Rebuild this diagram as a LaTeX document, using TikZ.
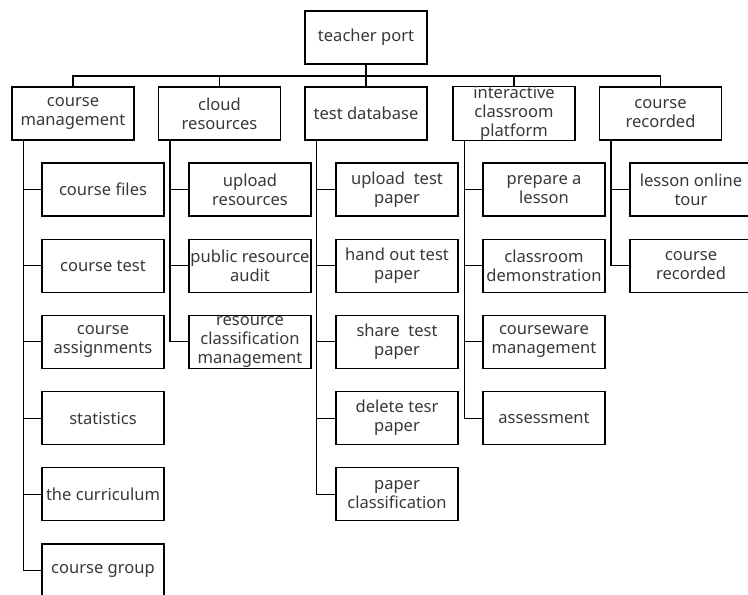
\documentclass[tikz,border=0pt]{standalone}
\usepackage{fontspec}
\setmainfont{Noto Sans}
\usetikzlibrary{positioning}

\begin{document}
\begin{tikzpicture}[x=0.75pt, y=-0.75pt]
		\tikzstyle{every node}=[font=\fontsize{12.4}{14.3}\selectfont, text=black!78]
		\tikzstyle{box}=[draw=black, line width=0.8pt, minimum width=91.5pt, minimum height=39.75pt, inner sep=0pt, align=center]
		\tikzstyle{link}=[line width=0.8pt]
		\useasboundingbox (0,0) rectangle (748,594);
		% top
		\node [box] (root) at (366,37.5) {teacher port};
		\node [box] (cm) at (73,113.5) {course\\management};
		\node [box] (cloud) at (219.5,113.5) {cloud\\resources};
		\node [box] (tdb) at (366,113.5) {test database};
		\node [box] (icp) at (514,113.5) {interactive\\classroom\\platform};
		\node [box] (rec) at (660.5,113.5) {course\\recorded};
		\coordinate (bus) at (366,76);
		\draw [link] (cm.north) |- (bus) -| (rec.north);
		\draw [link] (cloud.north) -- (cloud.north |- bus);
		\draw [link] (icp.north) -- (icp.north |- bus);
		\draw [link] (root.south) -- (tdb.north);
		% course management
		\node [box] (cm1) at (103,189.5) {course files};
		\node [box] (cm2) at (103,265.7) {course test};
		\node [box] (cm3) at (103,341.9) {course\\assignments};
		\node [box] (cm4) at (103,418.1) {statistics};
		\node [box] (cm5) at (103,494.3) {the curriculum};
		\node [box] (cm6) at (103,570.5) {course group};
		\coordinate (cmS) at ([xshift=9pt]cm.south west);
		\draw [link] (cmS) |- (cm6.west);
		\draw [link] (cm1.west) -- (cm1.west -| cmS) (cm2.west) -- (cm2.west -| cmS)
			(cm3.west) -- (cm3.west -| cmS) (cm4.west) -- (cm4.west -| cmS)
			(cm5.west) -- (cm5.west -| cmS);
		% cloud resources
		\node [box] (cl1) at (250,189.5) {upload\\resources};
		\node [box] (cl2) at (250,265.7) {public resource\\audit};
		\node [box] (cl3) at (250,341.9) {resource\\classification\\management};
		\coordinate (clS) at ([xshift=9pt]cloud.south west);
		\draw [link] (clS) |- (cl3.west);
		\draw [link] (cl1.west) -- (cl1.west -| clS) (cl2.west) -- (cl2.west -| clS);
		% test database
		\node [box] (td1) at (397,189.5) {upload\ \ test\\paper};
		\node [box] (td2) at (397,265.7) {hand out test\\paper};
		\node [box] (td3) at (397,341.9) {share\ \ test\\paper};
		\node [box] (td4) at (397,418.1) {delete tesr\\paper};
		\node [box] (td5) at (397,494.3) {paper\\classification};
		\coordinate (tdS) at ([xshift=9pt]tdb.south west);
		\draw [link] (tdS) |- (td5.west);
		\draw [link] (td1.west) -- (td1.west -| tdS) (td2.west) -- (td2.west -| tdS)
			(td3.west) -- (td3.west -| tdS) (td4.west) -- (td4.west -| tdS);
		% interactive classroom platform
		\node [box] (ic1) at (544,189.5) {prepare a\\lesson};
		\node [box] (ic2) at (544,265.7) {classroom\\demonstration};
		\node [box] (ic3) at (544,341.9) {courseware\\management};
		\node [box] (ic4) at (544,418.1) {assessment};
		\coordinate (icS) at ([xshift=9pt]icp.south west);
		\draw [link] (icS) |- (ic4.west);
		\draw [link] (ic1.west) -- (ic1.west -| icS) (ic2.west) -- (ic2.west -| icS)
			(ic3.west) -- (ic3.west -| icS);
		% course recorded
		\node [box] (rc1) at (691,189.5) {lesson online\\tour};
		\node [box] (rc2) at (691,265.7) {course\\recorded};
		\coordinate (rcS) at ([xshift=9pt]rec.south west);
		\draw [link] (rcS) |- (rc2.west);
		\draw [link] (rc1.west) -- (rc1.west -| rcS);
\end{tikzpicture}
\end{document}
